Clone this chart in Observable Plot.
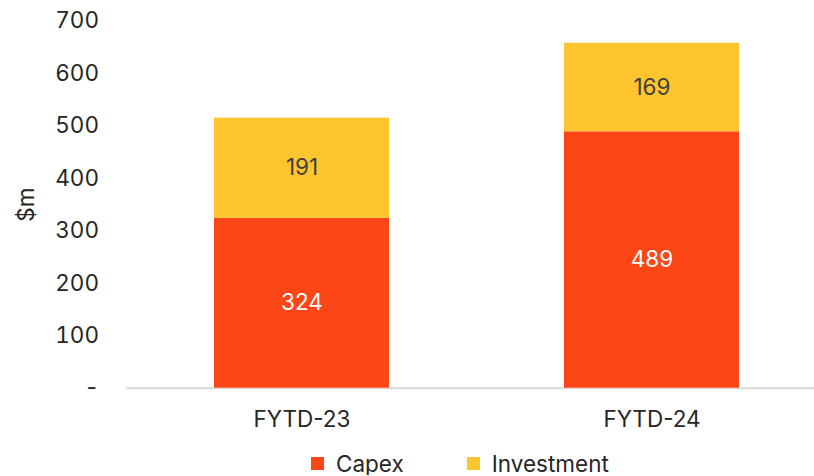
<!DOCTYPE html>
<html><head><meta charset="utf-8">
<script src="https://cdn.jsdelivr.net/npm/d3@7"></script>
<script src="https://cdn.jsdelivr.net/npm/@observablehq/plot@0.6"></script>
<style>
body{margin:0;background:#fff;font-family:Inter, "Open Sans", sans-serif;}
#legend{display:flex;align-items:center;padding-left:311px;margin-top:11px;font-size:22.5px;color:#262626;height:24px;}
.item{display:flex;align-items:center;}
.sw{width:13px;height:13px;margin-right:12px;}
</style></head><body><div id="chart"></div>
<script>
const periods = ["FYTD-23", "FYTD-24"];
const series = ["Capex", "Investment"];
const capex = [324, 489];
const investment = [191, 169];
const yTicks = [0, 100, 200, 300, 400, 500, 600, 700];
const colors = ["#FC4616", "#FEC52E"];

const data = periods.flatMap((p, i) => [
  {period: p, series: "Capex", value: capex[i]},
  {period: p, series: "Investment", value: investment[i]}
]);

const chart = Plot.plot({
  width: 814, height: 440,
  marginTop: 20.7, marginBottom: 52.3, marginLeft: 126.5, marginRight: 0,
  style: {fontFamily: "Inter, 'Open Sans', sans-serif", fontSize: "22.5px", color: "#262626", background: "#fff"},
  x: {domain: periods, range: [126.5, 826.5], paddingInner: 0.5, paddingOuter: 0.25, label: null},
  y: {domain: [0, 700]},
  color: {domain: series, range: colors},
  marks: [
    Plot.ruleY([0], {stroke: "#d9d9d9", strokeWidth: 2}),
    Plot.axisY({ticks: yTicks, tickSize: 0, tickPadding: 28, tickFormat: d => d === 0 ? "-" : d, label: "$m", labelAnchor: "center", labelArrow: "none", labelOffset: 109}),
    Plot.axisX({tickSize: 0, tickPadding: 23, label: null}),
    Plot.barY(data, {x: "period", y: "value", fill: "series"}),
    Plot.text(data, Plot.stackY({x: "period", y: "value", z: "series", text: d => d.series === "Capex" ? String(d.value) : "", fill: "#ffffff"})),
    Plot.text(data, Plot.stackY({x: "period", y: "value", z: "series", text: d => d.series === "Investment" ? String(d.value) : "", fill: "#404040"}))
  ]
});
document.getElementById("chart").appendChild(chart);

const legend = document.createElement("div");
legend.id = "legend";
series.forEach((s, i) => {
  const it = document.createElement("div");
  it.className = "item";
  if (i > 0) it.style.marginLeft = "63px";
  const sw = document.createElement("span");
  sw.className = "sw";
  sw.style.background = colors[i];
  const t = document.createElement("span");
  t.textContent = s;
  it.appendChild(sw); it.appendChild(t);
  legend.appendChild(it);
});
document.body.appendChild(legend);
</script></body></html>
